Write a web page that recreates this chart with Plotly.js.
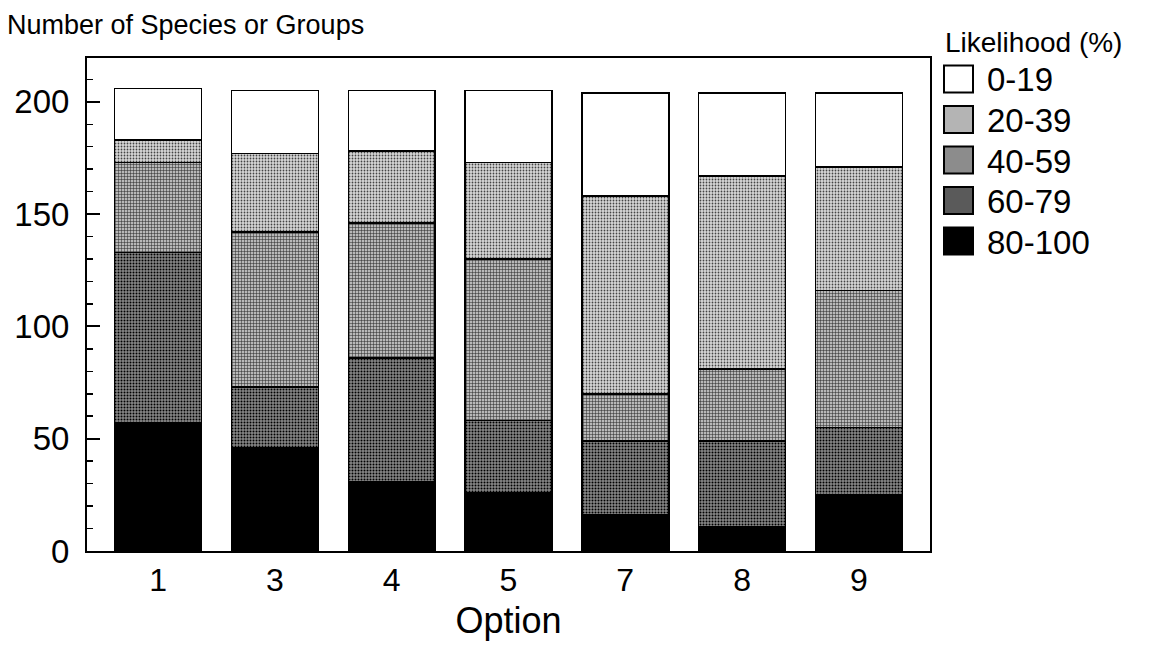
<!DOCTYPE html>
<html>
<head>
<meta charset="utf-8">
<script src="https://cdn.plot.ly/plotly-3.0.1.min.js"></script>
<style>html,body{margin:0;padding:0;background:#fff;}#chart{width:1158px;height:650px;}</style>
</head>
<body>
<div id="chart"></div>
<script>
const options = ["1", "3", "4", "5", "7", "8", "9"];
const likelihoodLabels = ["80-100", "60-79", "40-59", "20-39", "0-19"];
const v80_100 = [57, 46, 31, 26, 16, 11, 25];
const v60_79 = [76, 27, 55, 32, 33, 38, 30];
const v40_59 = [40, 69, 60, 72, 21, 32, 61];
const v20_39 = [10, 35, 32, 43, 88, 86, 55];
const v0_19 = [23, 28, 27, 32, 46, 37, 33];
const seriesValues = [v80_100, v60_79, v40_59, v20_39, v0_19];

const styles = [
  {color: "#000000", swatch: "#000000", pattern: null},
  {color: "#5a5a5a", swatch: "#5a5a5a", pattern: {shape: ".", fgcolor: "#000", bgcolor: "#888888", size: 3, solidity: 0.35}},
  {color: "#8c8c8c", swatch: "#8c8c8c", pattern: {shape: "+", fgcolor: "#222", bgcolor: "#b8b8b8", size: 3, solidity: 0.3}},
  {color: "#b4b4b4", swatch: "#b4b4b4", pattern: {shape: ".", fgcolor: "#444", bgcolor: "#d8d8d8", size: 3, solidity: 0.28}},
  {color: "#ffffff", swatch: "#ffffff", pattern: null}
];

const traces = seriesValues.map((vals, i) => {
  const m = {color: styles[i].color, line: {color: "#000", width: 1.5}};
  if (styles[i].pattern) m.pattern = styles[i].pattern;
  return {type: "bar", name: likelihoodLabels[i], x: options, y: vals, marker: m, showlegend: false};
});

// plot-area geometry (pixels)
const M = {l: 87, r: 228, t: 58, b: 99};
const W = 1158, H = 650;
const pw = W - M.l - M.r, ph = H - M.t - M.b;
const px = v => (v - M.l) / pw;
const py = v => 1 - (v - M.t) / ph;

const font = "Liberation Sans, Arial, sans-serif";
const shapes = [];
const annotations = [
  {text: "Number of Species or Groups", xref: "paper", yref: "paper", x: px(5), y: py(25), xanchor: "left", yanchor: "middle", showarrow: false, font: {size: 27, family: font}},
  {text: "Likelihood (%)", xref: "paper", yref: "paper", x: px(943), y: py(42), xanchor: "left", yanchor: "middle", showarrow: false, font: {size: 28, family: font}}
];
// custom legend, top to bottom: 0-19 ... 80-100
for (let k = 0; k < likelihoodLabels.length; k++) {
  const i = likelihoodLabels.length - 1 - k;
  const cy = 79 + k * 40.5;
  shapes.push({type: "rect", xref: "paper", yref: "paper", x0: px(944), x1: px(973), y0: py(cy + 13.5), y1: py(cy - 13.5),
    fillcolor: styles[i].swatch, line: {color: "#000", width: 2}});
  annotations.push({text: likelihoodLabels[i], xref: "paper", yref: "paper", x: px(985), y: py(cy + 1), xanchor: "left", yanchor: "middle",
    showarrow: false, font: {size: 33, family: font}});
}

const layout = {
  width: W, height: H,
  barmode: "stack",
  bargap: 0.255,
  paper_bgcolor: "#fff", plot_bgcolor: "#fff",
  margin: M,
  showlegend: false,
  font: {family: font, color: "#000"},
  xaxis: {
    type: "category", range: [-0.61, 6.61],
    showline: true, linecolor: "#000", linewidth: 2, mirror: true,
    ticks: "", tickfont: {size: 32, family: font},
    title: {text: "Option", font: {size: 36, family: font}, standoff: 10},
    showgrid: false, zeroline: false
  },
  yaxis: {
    range: [0, 219.5],
    tickvals: [0, 50, 100, 150, 200],
    ticks: "inside", ticklen: 13, tickwidth: 2, tickcolor: "#000",
    minor: {dtick: 10, ticks: "inside", ticklen: 6, tickwidth: 1.5, tickcolor: "#000"},
    showline: true, linecolor: "#000", linewidth: 2, mirror: true,
    tickfont: {size: 33, family: font},
    ticklabelstandoff: 9,
    showgrid: false, zeroline: false
  },
  shapes: shapes,
  annotations: annotations
};

Plotly.newPlot("chart", traces, layout, {displayModeBar: false, staticPlot: true});
</script>
</body>
</html>
